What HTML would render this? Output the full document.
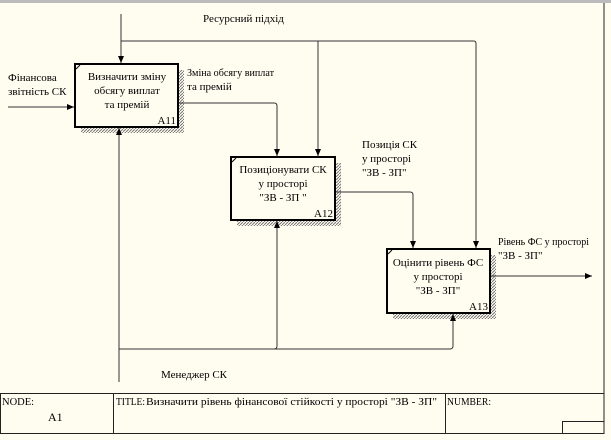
<!DOCTYPE html>
<html><head><meta charset="utf-8"><style>
body{margin:0;background:#fffcf0;}
svg{display:block;font-family:"Liberation Serif","DejaVu Serif",serif;font-size:11px;}
</style></head><body>
<svg width="611" height="440" viewBox="0 0 611 440">
<defs>
<pattern id="h" width="3" height="3" patternUnits="userSpaceOnUse"><path d="M0,3 L3,0" stroke="#777" stroke-width="1"/></pattern>
<marker id="a" markerWidth="8" markerHeight="8" refX="7" refY="4" orient="auto" markerUnits="userSpaceOnUse"><path d="M0,1 L7,4 L0,7z" fill="#000"/></marker>
</defs>
<rect x="0" y="0" width="611" height="3" fill="#bbb"/>
<line x1="604" y1="3" x2="604" y2="433" stroke="#222"/>
<rect x="81" y="70" width="103" height="63" fill="url(#h)"/>
<rect x="237" y="163" width="104" height="63" fill="url(#h)"/>
<rect x="393" y="255" width="103" height="64" fill="url(#h)"/>
<g fill="#fffcf0" stroke="#000" stroke-width="2">
<rect x="75" y="64" width="103" height="63"/>
<rect x="231" y="157" width="104" height="63"/>
<rect x="387" y="249" width="103" height="64"/>
</g>
<g stroke="#000" stroke-width="1"><line x1="76" y1="69" x2="80" y2="65"/><line x1="232" y1="162" x2="236" y2="158"/><line x1="388" y1="254" x2="392" y2="250"/></g>
<g fill="none" stroke="#333" stroke-width="1">
<path d="M121,14 V63" marker-end="url(#a)"/>
<path d="M121,41 H474 Q476,41 476,44 V248" marker-end="url(#a)"/>
<path d="M318,41 V156" marker-end="url(#a)"/>
<path d="M8,107 H74" marker-end="url(#a)"/>
<path d="M179,103 H274 Q277,103 277,106 V156" marker-end="url(#a)"/>
<path d="M336,192 H410 Q413,192 413,195 V248" marker-end="url(#a)"/>
<path d="M491,276 H592" marker-end="url(#a)"/>
<path d="M119,382 V128" marker-end="url(#a)"/>
<path d="M119,349 H450 Q453,349 453,346 V314" marker-end="url(#a)"/>
<path d="M119,349 H274 Q277,349 277,346 V221" marker-end="url(#a)"/>
</g>
<g text-anchor="middle">
<text x="127" y="80">Визначити зміну</text><text x="127" y="94">обсягу виплат</text><text x="127" y="108">та премій</text>
<text x="283" y="173">Позиціонувати СК</text><text x="283" y="187">у просторі</text><text x="283" y="201">"ЗВ - ЗП "</text>
<text x="438" y="266">Оцінити рівень ФС</text><text x="438" y="280">у просторі</text><text x="438" y="294">"ЗВ - ЗП"</text>
</g>
<g text-anchor="end"><text x="176" y="124">A11</text><text x="333" y="217">A12</text><text x="488" y="310">A13</text></g>
<text x="203" y="22">Ресурсний підхід</text>
<text x="8" y="81">Фінансова</text><text x="8" y="95">звітність СК</text>
<text x="187" y="76" textLength="87" lengthAdjust="spacingAndGlyphs">Зміна обсягу виплат</text><text x="187" y="90">та премій</text>
<text x="362" y="148">Позиція СК</text><text x="362" y="162">у просторі</text><text x="362" y="176">"ЗВ - ЗП"</text>
<text x="498" y="245" textLength="91" lengthAdjust="spacingAndGlyphs">Рівень ФС у просторі</text><text x="498" y="259">"ЗВ - ЗП"</text>
<text x="161" y="378">Менеджер СК</text>
<g fill="none" stroke="#222"><rect x="0.5" y="393.5" width="603.5" height="40"/><line x1="113.5" y1="393" x2="113.5" y2="433"/><line x1="445.5" y1="393" x2="445.5" y2="433"/><rect x="562.5" y="421.5" width="41.5" height="12"/></g>
<text x="2" y="405" font-size="10.5">NODE:</text><text x="48" y="421" font-size="12">A1</text>
<text x="116" y="405" font-size="10.5" textLength="29" lengthAdjust="spacingAndGlyphs">TITLE:</text><text x="146" y="405" font-size="11" textLength="291" lengthAdjust="spacingAndGlyphs">Визначити рівень фінансової стійкості у просторі "ЗВ - ЗП"</text>
<text x="447" y="405" font-size="10.5" textLength="44" lengthAdjust="spacingAndGlyphs">NUMBER:</text>
</svg>
</body></html>
